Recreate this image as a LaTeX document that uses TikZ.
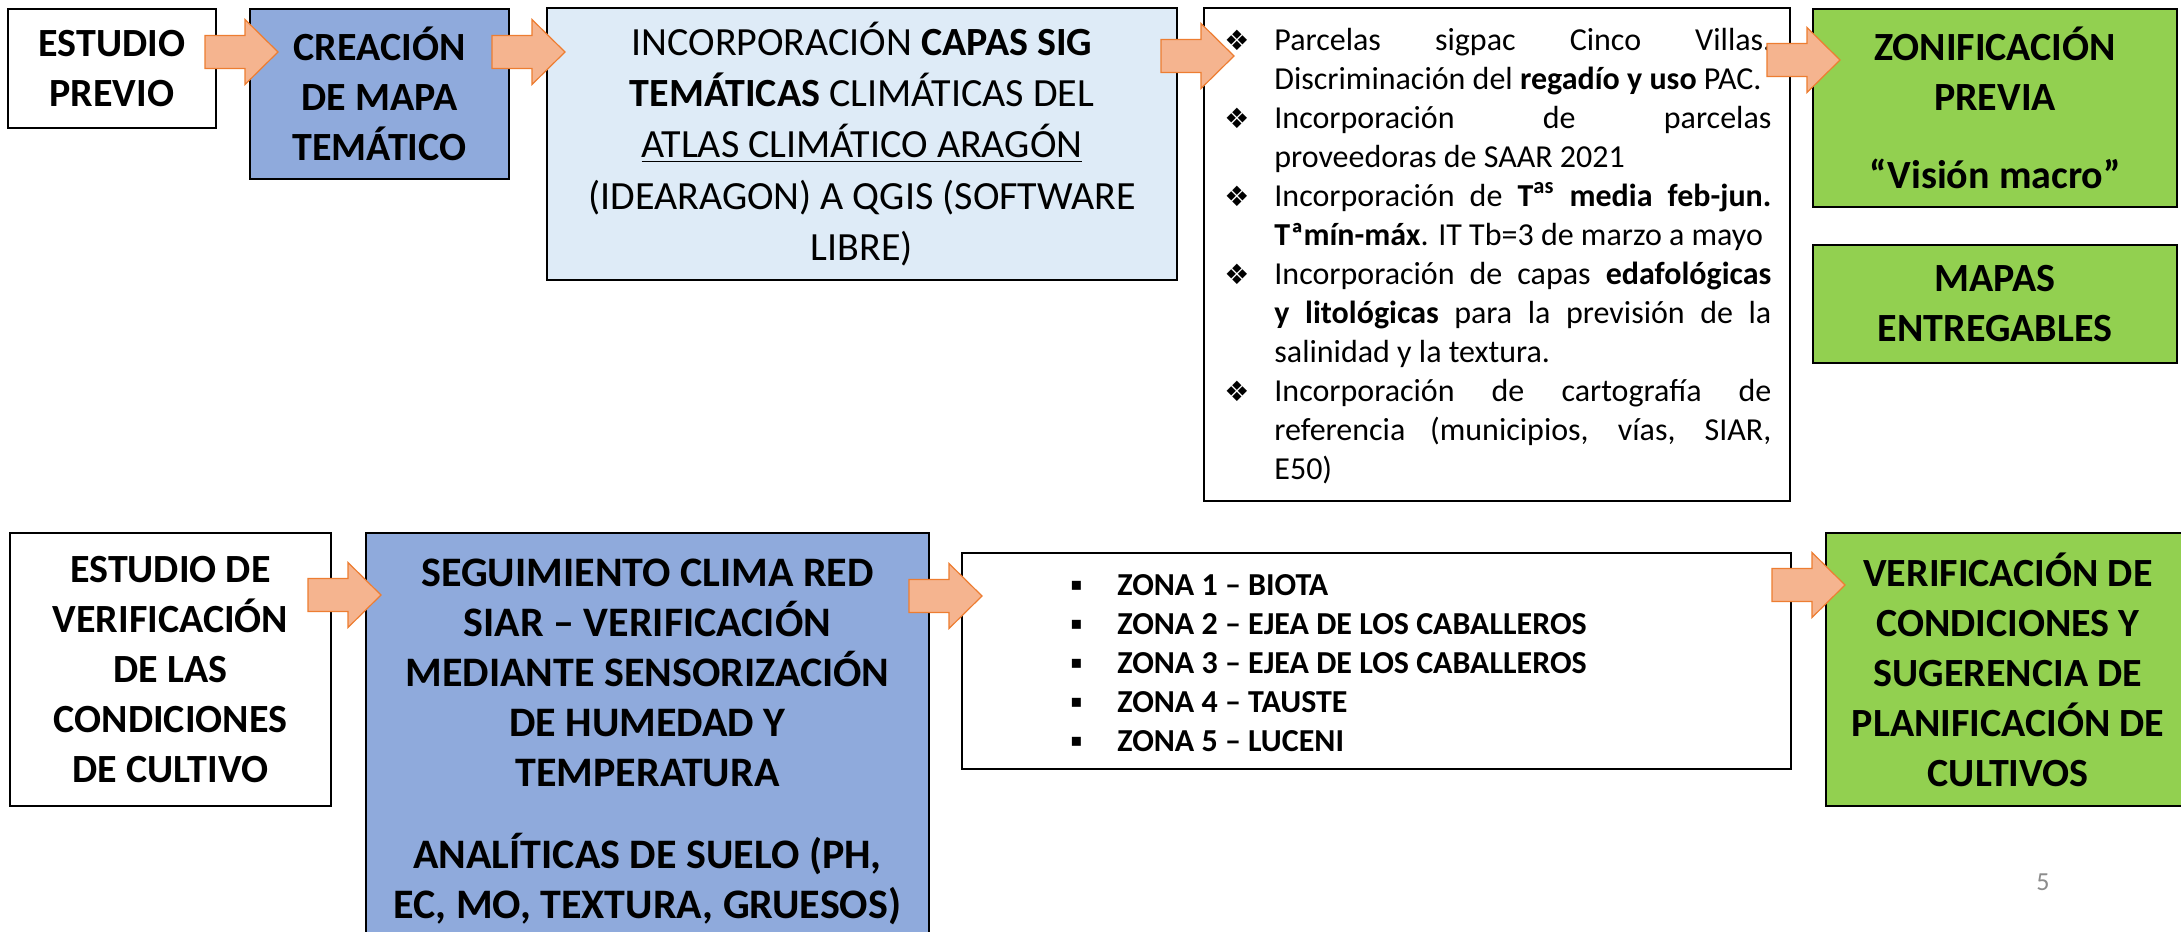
\documentclass[tikz,border=0pt]{standalone}
\usepackage{fontspec}
\setmainfont{Carlito}
\newfontfamily\symfont{DejaVu Sans}
\definecolor{azul}{HTML}{8FAADC}
\definecolor{azulclaro}{HTML}{DEEBF7}
\definecolor{verde}{HTML}{92D050}
\definecolor{flechafill}{HTML}{F5B48F}
\definecolor{flechaline}{HTML}{ED7D31}
\definecolor{gris}{HTML}{8C8C8C}
\tikzset{
  box/.style={draw=black, line width=1.2pt, inner sep=0pt, align=center,
    font=\fontsize{20}{25}\selectfont\bfseries},
  lista/.style={inner sep=0pt, align=left, anchor=west},
  flecha/.pic={
    \draw[flechaline, fill=flechafill, line width=0.6pt]
      (-40,-16.5) -- (0,-16.5) -- (0,-32.5) -- (33,0) -- (0,32.5)
      -- (0,16.5) -- (-40,16.5) -- cycle;
  }
}
% lines of the bullet lists
\newcommand{\rombo}{\makebox[25pt][l]{\symfont\fontsize{14}{14}\selectfont ❖}}
\newcommand{\ditem}[1]{\rombo\makebox[248.5pt][s]{#1}}
\newcommand{\dfull}[1]{\hspace*{25pt}\makebox[248.5pt][s]{#1}}
\newcommand{\dcont}[1]{\hspace*{25pt}#1}
\newcommand{\zitem}[1]{\makebox[24.5pt][l]{\hspace*{1pt}\raisebox{2.5pt}{\symfont\fontsize{9}{9}\selectfont ▪}}#1}

\begin{document}
\begin{tikzpicture}[x=0.5pt,y=-0.5pt]
  \clip (0,0) rectangle (2181,932);
  \fill[white] (0,0) rectangle (2181,932);
  % top row
  \node[box,fill=white,minimum width=104pt,minimum height=59.5pt] (estudio) at (112,68.5) {ESTUDIO\\PREVIO};
  \node[box,fill=azul,minimum width=129.5pt,minimum height=85pt] (creacion) at (379.5,94) {CREACIÓN\\DE MAPA\\TEMÁTICO};
  \node[box,fill=azulclaro,minimum width=315pt,minimum height=136pt,
    font=\fontsize{20}{25.6}\selectfont] (capas) at (862,144)
    {INCORPORACIÓN \textbf{CAPAS SIG}\\\textbf{TEMÁTICAS} CLIMÁTICAS DEL\\\underline{ATLAS CLIMÁTICO ARAGÓN}\\(IDEARAGON) A QGIS (SOFTWARE\\LIBRE)};
  \node[box,fill=white,minimum width=293pt,minimum height=246.5pt] (parcelas) at (1497,254.5) {};
  \node[lista,font=\fontsize{16}{19.5}\selectfont] (parcelastxt) at (1224,256) {%
    \ditem{Parcelas sigpac Cinco Villas.}\\
    \dcont{Discriminación del \textbf{regadío y uso} PAC.}\\
    \ditem{Incorporación de parcelas}\\
    \dcont{proveedoras de SAAR 2021}\\
    \ditem{Incorporación de \textbf{T\textsuperscript{as} media feb-jun.}}\\
    \dcont{\textbf{Tªmín-máx}. IT Tb=3 de marzo a mayo}\\
    \ditem{Incorporación de capas \textbf{edafológicas}}\\
    \dfull{\textbf{y litológicas} para la previsión de la}\\
    \dcont{salinidad y la textura.}\\
    \ditem{Incorporación de cartografía de}\\
    \dfull{referencia (municipios, vías, SIAR,}\\
    \dcont{E50)}};
  \node[box,fill=verde,minimum width=182pt,minimum height=99pt] (zonif) at (1995,108) {ZONIFICACIÓN\\PREVIA\\[14pt]“Visión macro”};
  \node[box,fill=verde,minimum width=182pt,minimum height=59pt] (mapas) at (1995,304) {MAPAS\\ENTREGABLES};
  % bottom row
  \node[box,fill=white,minimum width=160.5pt,minimum height=136.5pt] (verif) at (170.5,669.5) {ESTUDIO DE\\VERIFICACIÓN\\DE LAS\\CONDICIONES\\DE CULTIVO};
  \node[box,fill=azul,minimum width=281.5pt,minimum height=208.5pt,
    font=\fontsize{21}{25}\selectfont\bfseries] (seguim) at (647.5,741.5)
    {SEGUIMIENTO CLIMA RED\\SIAR – VERIFICACIÓN\\MEDIANTE SENSORIZACIÓN\\DE HUMEDAD Y\\TEMPERATURA\\[16pt]ANALÍTICAS DE SUELO (PH,\\EC, MO, TEXTURA, GRUESOS)};
  \node[box,fill=white,minimum width=414.5pt,minimum height=108pt] (zonas) at (1376.5,661) {};
  \node[lista,font=\fontsize{16}{19.5}\selectfont\bfseries] (zonastxt) at (1068,663) {%
    \zitem{ZONA 1 – BIOTA}\\
    \zitem{ZONA 2 – EJEA DE LOS CABALLEROS}\\
    \zitem{ZONA 3 – EJEA DE LOS CABALLEROS}\\
    \zitem{ZONA 4 – TAUSTE}\\
    \zitem{ZONA 5 – LUCENI}};
  \node[box,fill=verde,minimum width=182pt,minimum height=136.5pt] (planif) at (2008,669.5) {VERIFICACIÓN DE\\CONDICIONES Y\\SUGERENCIA DE\\PLANIFICACIÓN DE\\CULTIVOS};
  \node[gris,font=\fontsize{13}{13}\selectfont] (pagina) at (2043,882) {5};
  % arrows
  \pic (f1) at (245,52) {flecha};
  \pic (f2) at (532,52) {flecha};
  \pic (f3) at (1201,56) {flecha};
  \pic (f4) at (1807,60) {flecha};
  \pic (f5) at (348,595) {flecha};
  \pic (f6) at (949,596) {flecha};
  \pic (f7) at (1812,585) {flecha};
\end{tikzpicture}
\end{document}
